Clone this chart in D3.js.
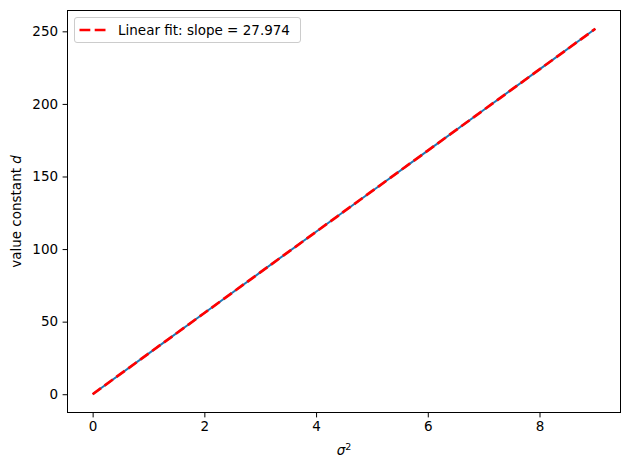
<!DOCTYPE html>
<html><head><meta charset="utf-8">
<script src="https://cdn.jsdelivr.net/npm/d3@7"></script>
<style>body{margin:0;background:#fff}svg{display:block}text{font-family:"DejaVu Sans",sans-serif}</style>
</head><body><svg id="c" width="630" height="470"></svg>
<script>
const sigma2 = [0, 1, 2, 3, 4, 5, 6, 7, 8, 9];
const dValues = [0, 27.97, 55.95, 83.92, 111.90, 139.87, 167.84, 195.82, 223.79, 251.77];
const fitSlope = 27.974;
const fitIntercept = 0;
const xTicks = [0, 2, 4, 6, 8];
const yTicks = [0, 50, 100, 150, 200, 250];
const legendLabel = "Linear fit: slope = 27.974";

const svg = d3.select("#c");
const L = 67.5, R = 620.5, T = 10.5, B = 412.5;
const xmin = d3.min(sigma2), xmax = d3.max(sigma2);
const fitVals = sigma2.map(s => fitSlope * s + fitIntercept);
const ymin = Math.min(d3.min(dValues), d3.min(fitVals)), ymax = Math.max(d3.max(dValues), d3.max(fitVals));
const xpad = (xmax - xmin) * 0.05, ypad = (ymax - ymin) * 0.05;
const x = d3.scaleLinear().domain([xmin - xpad, xmax + xpad]).range([L, R]);
const y = d3.scaleLinear().domain([ymin - ypad, ymax + ypad]).range([B, T]);

const fs = "13.5px";
const xa = svg.append("g").attr("transform", `translate(0,${B})`)
  .call(d3.axisBottom(x).tickValues(xTicks).tickFormat(d3.format("d")).tickSize(4.9).tickPadding(4.5));
const ya = svg.append("g").attr("transform", `translate(${L},0)`)
  .call(d3.axisLeft(y).tickValues(yTicks).tickFormat(d3.format("d")).tickSize(4.9).tickPadding(4.5));
[xa, ya].forEach(a => {
  a.select(".domain").remove();
  a.selectAll("line").attr("stroke", "#000").attr("stroke-width", 1);
  a.selectAll("text").attr("font-size", fs).attr("fill", "#000").attr("font-family", "DejaVu Sans");
});

const line = d3.line().x((d, i) => x(sigma2[i])).y(d => y(d));
svg.append("path").datum(dValues).attr("d", line).attr("fill", "none")
  .attr("stroke", "#1f77b4").attr("stroke-width", 2);
svg.append("path").datum(fitVals).attr("d", line).attr("fill", "none")
  .attr("stroke", "#ff0000").attr("stroke-width", 2.7).attr("stroke-dasharray", "10.3,4.4");

svg.append("rect").attr("x", L).attr("y", T).attr("width", R - L).attr("height", B - T)
  .attr("fill", "none").attr("stroke", "#000").attr("stroke-width", 1);

// legend
const lg = svg.append("g");
lg.append("rect").attr("x", 74.5).attr("y", 17.5).attr("width", 226).attr("height", 25).attr("rx", 2.5)
  .attr("fill", "#fff").attr("fill-opacity", 0.8).attr("stroke", "#ccc").attr("stroke-width", 1);
lg.append("line").attr("x1", 79.5).attr("x2", 105.5).attr("y1", 30).attr("y2", 30)
  .attr("stroke", "#ff0000").attr("stroke-width", 2.7).attr("stroke-dasharray", "10.8,4.4");
lg.append("text").attr("x", 118).attr("y", 34.5).attr("font-size", fs).text(legendLabel);

// axis labels
const xl = svg.append("text").attr("x", (L + R) / 2).attr("y", 455).attr("text-anchor", "middle").attr("font-size", fs);
xl.append("tspan").attr("font-style", "italic").text("σ");
xl.append("tspan").attr("font-size", "9.5px").attr("dy", -5).text("2");
const yl = svg.append("text").attr("transform", `translate(21,${(T + B) / 2}) rotate(-90)`)
  .attr("text-anchor", "middle").attr("font-size", fs);
yl.append("tspan").text("value constant ");
yl.append("tspan").attr("font-style", "italic").text("d");
</script></body></html>
